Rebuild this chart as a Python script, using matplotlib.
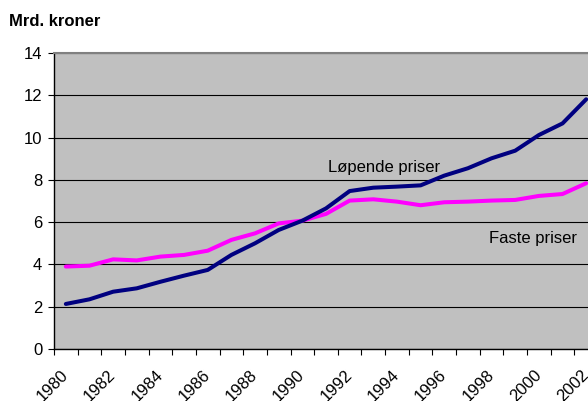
import numpy as np
from matplotlib import pyplot as plt

plt.rcParams['font.family'] = ['Liberation Sans', 'DejaVu Sans']

years = list(range(1980, 2003))
lopende = [2.13, 2.35, 2.71, 2.87, 3.18, 3.47, 3.74, 4.45, 5.0, 5.63, 6.07,
           6.65, 7.47, 7.63, 7.68, 7.74, 8.2, 8.55, 9.02, 9.38, 10.12, 10.67, 11.81]
faste = [3.9, 3.94, 4.24, 4.19, 4.37, 4.45, 4.65, 5.16, 5.47, 5.94, 6.07,
         6.39, 7.02, 7.08, 6.97, 6.8, 6.94, 6.97, 7.02, 7.05, 7.24, 7.33, 7.84]
tick_years = [str(y) for y in years[::2]]

fig = plt.figure(figsize=(5.88, 4.01), dpi=100)
# plot area runs past the right edge, like the original
ax = fig.add_axes([54/588, 1 - 349/401, 544/588, 296/401])
ax.set_facecolor('#c0c0c0')

x = np.arange(len(years)) + 0.5
ax.plot(x, faste, color='#ff00ff', lw=2.9, solid_capstyle='round', zorder=3)
ax.plot(x, lopende, color='#000080', lw=2.9, solid_capstyle='round', zorder=4)

ax.set_xlim(0, len(years))
ax.set_ylim(0, 14)
ax.set_yticks(np.arange(0, 15, 2))
ax.yaxis.grid(True, color='black', lw=0.8)
ax.set_axisbelow(True)

ax.set_xticks(np.arange(0, len(years) + 1))
ax.set_xticklabels([])
ax.set_xticks(x[::2], tick_years, minor=True)
ax.tick_params(axis='x', which='minor', length=0, pad=17, labelsize=12)
for lab in ax.get_xticklabels(minor=True):
    lab.set_rotation(45)
    lab.set_ha('right')
    lab.set_va('center')
    lab.set_rotation_mode('anchor')
ax.tick_params(axis='both', which='major', length=4.5, width=0.8, labelsize=12, color='black')
ax.tick_params(axis='y', pad=4)

ax.spines['top'].set_color('#808080')
ax.spines['top'].set_linewidth(1.5)
ax.spines['right'].set_visible(False)
ax.spines['left'].set_linewidth(1)
ax.spines['bottom'].set_linewidth(1)

ax.text(11.6, 8.6, 'Løpende priser', fontsize=12, ha='left', va='center')
ax.text(18.4, 5.25, 'Faste priser', fontsize=12, ha='left', va='center')

fig.text(9/588, 1 - 22/401, 'Mrd. kroner', fontsize=12, fontweight='bold', va='center')

fig.savefig('out.png', dpi=100)
